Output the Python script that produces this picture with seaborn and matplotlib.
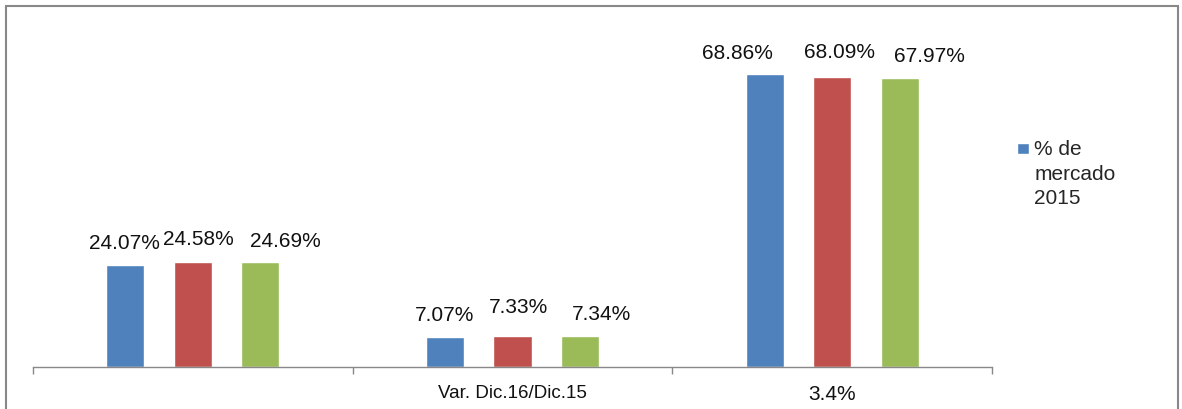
import pandas as pd
import numpy as np
import seaborn as sns
import matplotlib.pyplot as plt
from matplotlib.patches import Rectangle
from matplotlib.legend_handler import HandlerPatch

# values
categories = ['', 'Var. Dic.16/Dic.15', '3.4%']
series = ['% de\nmercado\n2015', '% de mercado 2016', '% de mercado Dic.16']
values_2015 = [24.07, 7.07, 68.86]
values_2016 = [24.58, 7.33, 68.09]
values_dic16 = [24.69, 7.34, 67.97]
colors = ['#4F81BD', '#C0504D', '#9BBB59']

# hand-moved data labels in the original (dx, dy in pixels, per series / category)
label_nudge = [
    [(-1, 0), (0, 0), (-27, 0)],
    [(6, 2), (6, 7), (7, 4)],
    [(25, -1), (22, 0), (30, 0)],
]

df = pd.DataFrame({
    'Categoria': categories * 3,
    'Serie': [series[0]] * 3 + [series[1]] * 3 + [series[2]] * 3,
    'Valor': values_2015 + values_2016 + values_dic16,
})

sns.set_style('white')
plt.rcParams['font.family'] = ['Liberation Sans', 'DejaVu Sans']
FS = 15
PAD = 9

fig = plt.figure(figsize=(11.82, 4.10), dpi=100)
ax = fig.add_axes([0.0279, 0.1024, 0.8113, 0.83])

sns.barplot(data=df, x='Categoria', y='Valor', hue='Serie', palette=colors,
            order=categories, hue_order=series, width=0.633, gap=0.435,
            saturation=1, ax=ax)

for cont, nudges in zip(ax.containers, label_nudge):
    texts = ax.bar_label(cont, labels=[f'{v:.2f}%' for v in cont.datavalues],
                         padding=PAD, fontsize=FS, color='#111111')
    for t, (dx, dy) in zip(texts, nudges):
        t.xyann = (dx * 0.72, PAD + dy * 0.72)

ax.set_ylim(0, 80)
ax.set_xlim(-0.5, 2.5)
ax.set_yticks([])
ax.set_xlabel('')
ax.set_ylabel('')

# ticks on category borders, labels at centres
ax.set_xticks([0, 1, 2])
ax.set_xticklabels(categories, fontsize=FS, color='#111111')
ax.get_xticklabels()[1].set_fontsize(13.5)
ax.tick_params(axis='x', which='major', length=0, pad=12.5)
ax.set_xticks([-0.5, 0.5, 1.5, 2.5], minor=True)
ax.tick_params(axis='x', which='minor', length=5, width=1, color='#888888',
               direction='out', bottom=True)

for s in ['top', 'right', 'left']:
    ax.spines[s].set_visible(False)
ax.spines['bottom'].set_color('#888888')
ax.spines['bottom'].set_linewidth(1)


# square legend key sitting next to the first line of the label
def top_square(legend, orig_handle, xdescent, ydescent, width, height, fontsize):
    sq = 0.56 * fontsize
    return Rectangle((-xdescent, -ydescent + height - sq * 0.4), sq, sq)


handles, labels = ax.get_legend_handles_labels()
leg = ax.legend(handles[:1], labels[:1], loc='upper left',
                bbox_to_anchor=(0.852, 0.683), bbox_transform=fig.transFigure,
                frameon=False, fontsize=FS, handlelength=0.56, handleheight=3.3,
                handletextpad=0.25, borderpad=0,
                handler_map={type(handles[0]): HandlerPatch(patch_func=top_square)})
for t in leg.get_texts():
    t.set_linespacing(1.35)

# chart border
fig.patches.append(Rectangle((6 / 1182, -0.05), 1172 / 1182, 0.05 + 403 / 410,
                             transform=fig.transFigure, fill=False,
                             edgecolor='#888888', linewidth=1.5))

fig.savefig('out.png', dpi=100)
